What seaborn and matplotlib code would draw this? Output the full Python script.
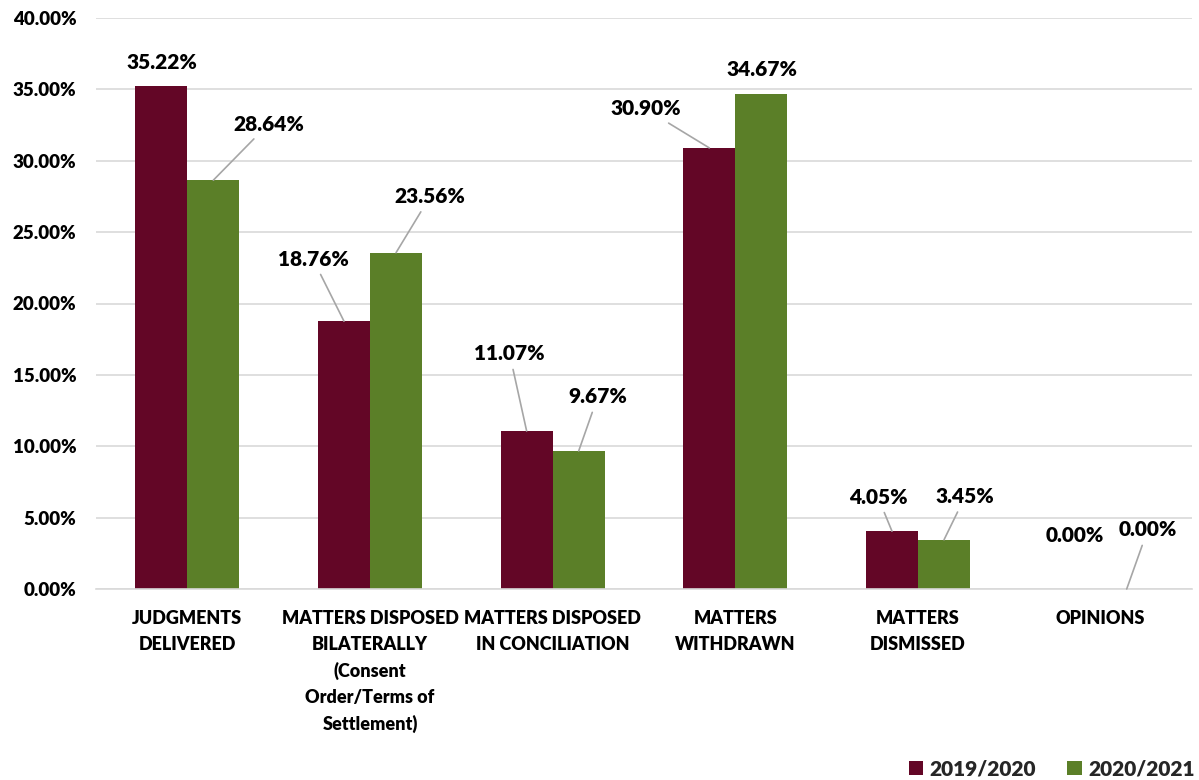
import matplotlib
matplotlib.use("Agg")
import matplotlib.pyplot as plt
from matplotlib.ticker import FuncFormatter, FixedLocator
import seaborn as sns
import pandas as pd

categories = [
    "JUDGMENTS\nDELIVERED",
    "MATTERS DISPOSED\nBILATERALLY\n(Consent\nOrder/Terms of\nSettlement)",
    "MATTERS DISPOSED\nIN CONCILIATION",
    "MATTERS\nWITHDRAWN",
    "MATTERS\nDISMISSED",
    "OPINIONS",
]
series_names = ["2019/2020", "2020/2021"]
values_2019_2020 = [35.22, 18.76, 11.07, 30.90, 4.05, 0.00]
values_2020_2021 = [28.64, 23.56, 9.67, 34.67, 3.45, 0.00]

colors = ["#630626", "#5B7F28"]
WEIGHT = 800

# Label placement (pixel offsets from each bar's top centre) and leader-line flags
offsets_2019 = [(1, 24), (-31, 62), (-17, 77), (-64, 39), (-14, 34), (0, 54)]
offsets_2020 = [(55, 56), (34, 56), (19, 54), (1, 25), (21, 43), (21, 59)]
leader_2019 = [False, True, True, True, True, False]
leader_2020 = [True, True, True, False, True, True]

df = pd.DataFrame({
    "category": categories * 2,
    "series": [series_names[0]] * len(categories) + [series_names[1]] * len(categories),
    "value": [v / 100 for v in values_2019_2020] + [v / 100 for v in values_2020_2021],
})

sns.set_theme(style="white")
plt.rcParams["font.family"] = ["Lato", "DejaVu Sans"]

fig = plt.figure(figsize=(11.99, 7.80), dpi=100)
ax = fig.add_axes([96 / 1199, 1 - 589 / 780, (1192 - 96) / 1199, (589 - 18) / 780])

sns.barplot(data=df, x="category", y="value", hue="series", palette=colors,
            order=categories, hue_order=series_names, width=0.57, gap=0,
            saturation=1, linewidth=0, ax=ax, legend=True)

ax.set_ylim(0, 0.40)
ax.set_xlim(-0.5, len(categories) - 0.5)
ax.set_yticks([i * 0.05 for i in range(9)])
ax.yaxis.set_major_formatter(FuncFormatter(lambda v, p: f"{v * 100:.2f}%"))
ax.grid(axis="y", color="#d9d9d9", linewidth=1.2)
ax.set_axisbelow(True)
for side in ["left", "right", "top"]:
    ax.spines[side].set_visible(False)
ax.spines["bottom"].set_color("#d9d9d9")
ax.spines["bottom"].set_linewidth(1.2)

ax.tick_params(axis="y", length=0, pad=14, labelsize=13.5)
ax.tick_params(axis="x", which="major", length=0, pad=15, labelsize=13)
ax.xaxis.set_minor_locator(FixedLocator([i - 0.5 for i in range(len(categories) + 1)]))
ax.tick_params(axis="x", which="minor", length=7, color="#d9d9d9", width=1.2)
for lbl in ax.get_xticklabels():
    lbl.set_linespacing(1.62)
    lbl.set_fontweight(WEIGHT)
    lbl.set_color("black")
for lbl in ax.get_yticklabels():
    lbl.set_fontweight(WEIGHT)
    lbl.set_color("black")
ax.set_xlabel("")
ax.set_ylabel("")

n = len(categories)
bars = ax.patches[: 2 * n]
series_info = [(values_2019_2020, offsets_2019, leader_2019),
               (values_2020_2021, offsets_2020, leader_2020)]
for s, (vals, offs, leads) in enumerate(series_info):
    for i, v in enumerate(vals):
        bar = bars[s * n + i]
        x = bar.get_x() + bar.get_width() / 2
        y = bar.get_height()
        arrow = dict(arrowstyle="-", color="#a6a6a6", lw=1.2, shrinkA=2, shrinkB=0) if leads[i] else None
        ax.annotate(f"{v:.2f}%", xy=(x, y), xytext=offs[i], textcoords="offset pixels",
                    ha="center", va="center", fontsize=15, fontweight=WEIGHT,
                    color="black", arrowprops=arrow, annotation_clip=False)

leg = ax.get_legend()
handles = leg.legend_handles
leg.remove()
fig.legend(handles, series_names, loc="lower right", bbox_to_anchor=(1.012, -0.022),
           ncol=2, frameon=False, handlelength=0.7, handleheight=0.7,
           handletextpad=0.3, columnspacing=1.5, prop={"weight": WEIGHT, "size": 15})

fig.savefig("out.png", dpi=100, facecolor="white")
